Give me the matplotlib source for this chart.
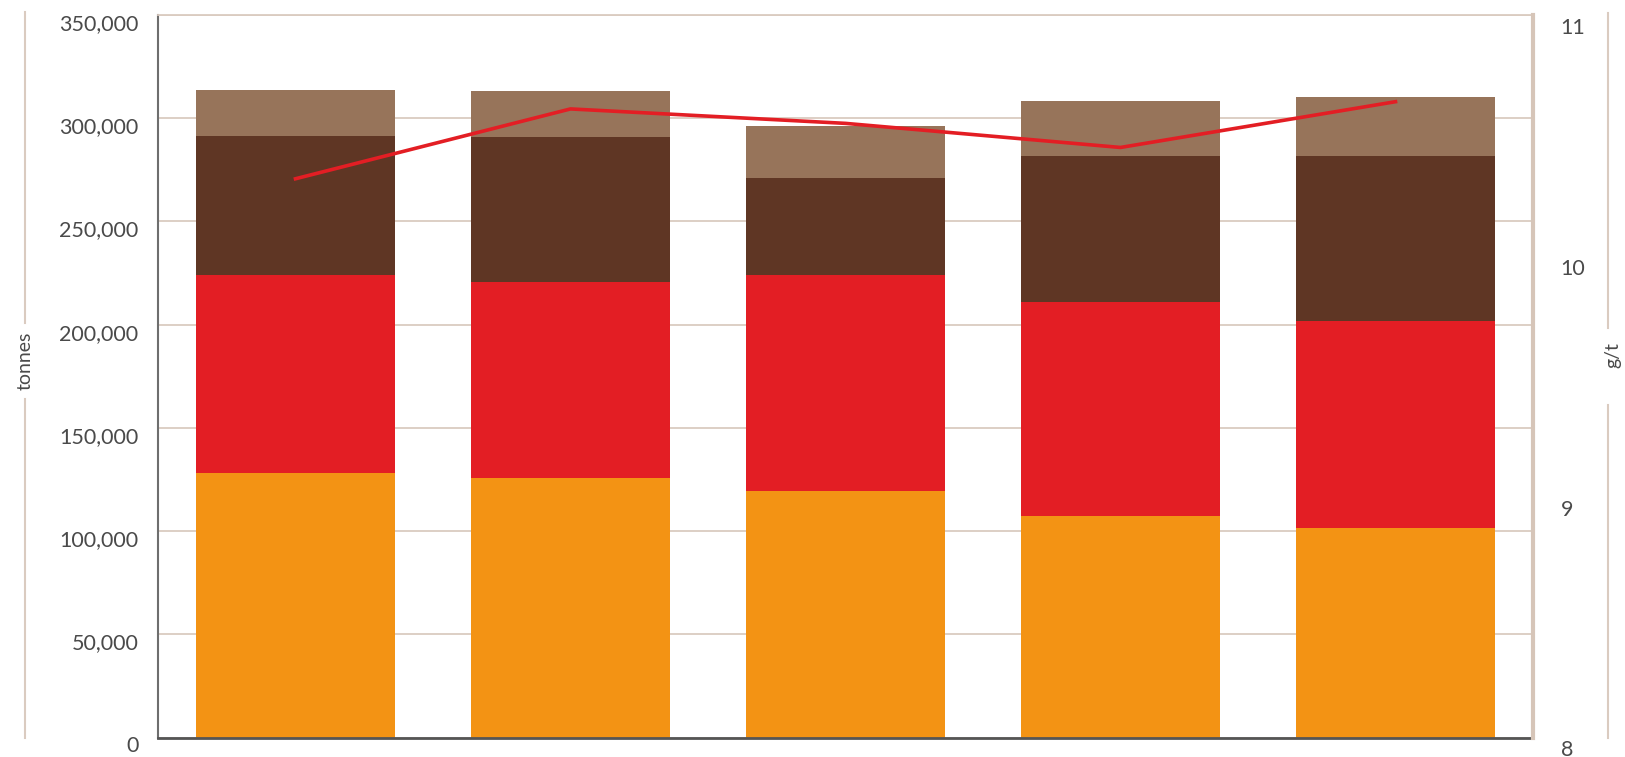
# Produccion por tipo de mineral (toneladas) y ley media (g/t)

# Librerias

import matplotlib.pyplot as plt
import matplotlib.transforms as mtransforms
from matplotlib.lines import Line2D
from matplotlib.ticker import FuncFormatter

# Datos

posiciones = [0, 1, 2, 3, 4]

naranja = [128000, 125900, 119300, 107100, 101600]
rojo = [95900, 94700, 104600, 103800, 100000]
marron = [67700, 70100, 46900, 71000, 80300]
marron_claro = [22000, 22700, 25200, 26200, 28600]

ley = [10.32, 10.61, 10.55, 10.45, 10.64]

ticks_izq = [0, 50000, 100000, 150000, 200000, 250000, 300000, 350000]
ticks_der = [8, 9, 10, 11]

# Estilo

plt.rcParams['font.family'] = ['Lato', 'DejaVu Sans']
plt.rcParams['font.weight'] = 'normal'

c_naranja = '#f39314'
c_rojo = '#e31e24'
c_marron = '#5f3624'
c_claro = '#97745a'
c_tan = '#dacbc0'
c_texto = '#4a4a4a'

fig = plt.figure(figsize=(16.25, 7.57), dpi=100)
ax = fig.add_axes([158 / 1625, 1 - 737.5 / 757, 1375 / 1625, 722.5 / 757])

# Barras apiladas

ancho = 0.725
base2 = [a + b for a, b in zip(naranja, rojo)]
base3 = [a + b for a, b in zip(base2, marron)]

ax.bar(posiciones, naranja, ancho, color=c_naranja)
ax.bar(posiciones, rojo, ancho, bottom=naranja, color=c_rojo)
ax.bar(posiciones, marron, ancho, bottom=base2, color=c_marron)
ax.bar(posiciones, marron_claro, ancho, bottom=base3, color=c_claro)

ax.set_xlim(-0.5, 4.5)
ax.set_ylim(0, 350000)
ax.set_yticks(ticks_izq)
ax.yaxis.set_major_formatter(FuncFormatter(lambda v, p: f'{int(v):,}'))
ax.set_xticks([])
ax.tick_params(axis='y', length=0, pad=14, labelsize=15.5, labelcolor=c_texto)

ax.set_axisbelow(True)
ax.grid(axis='y', color=c_tan, linewidth=1.3)

ax.spines['left'].set_color('#6e6e6e')
ax.spines['left'].set_linewidth(1.5)
ax.spines['bottom'].set_color('#555555')
ax.spines['bottom'].set_linewidth(2)
ax.spines['top'].set_color(c_tan)
ax.spines['top'].set_linewidth(1.3)
ax.spines['right'].set_visible(False)

# Linea de ley (eje derecho)

ax2 = ax.twinx()
ax2.plot(posiciones, ley, color=c_rojo, linewidth=2.6)
ax2.set_ylim(8, 11)
ax2.set_yticks(ticks_der)
ax2.tick_params(axis='y', length=0, pad=20, labelsize=15.5, labelcolor=c_texto)
for lado in ['left', 'top', 'bottom']:
    ax2.spines[lado].set_visible(False)
ax2.spines['right'].set_color('#d6c5b8')
ax2.spines['right'].set_linewidth(3)

# Etiquetas un poco mas abajo, como en el original

for lbl in ax.get_yticklabels():
    lbl.set_transform(lbl.get_transform() + mtransforms.ScaledTranslation(0, -0.07, fig.dpi_scale_trans))
for lbl in ax2.get_yticklabels():
    lbl.set_transform(lbl.get_transform() + mtransforms.ScaledTranslation(0, -0.11, fig.dpi_scale_trans))

# Lineas laterales y titulos de eje

def px(x, y):
    return x / 1625, 1 - y / 757

for x0, y0, y1 in [(25, 12, 323), (25, 399, 738), (1608, 13, 328), (1608, 405, 738)]:
    (a, b), (c, d) = px(x0, y0), px(x0, y1)
    fig.add_artist(Line2D([a, c], [b, d], color=c_tan, linewidth=1.5))

fig.text(*px(25, 361), 'tonnes', rotation=90, ha='center', va='center',
         fontsize=14, color=c_texto)
fig.text(*px(1613, 355), 'g/t', rotation=90, ha='center', va='center',
         fontsize=14, color=c_texto)

plt.savefig('out.png', dpi=100)
